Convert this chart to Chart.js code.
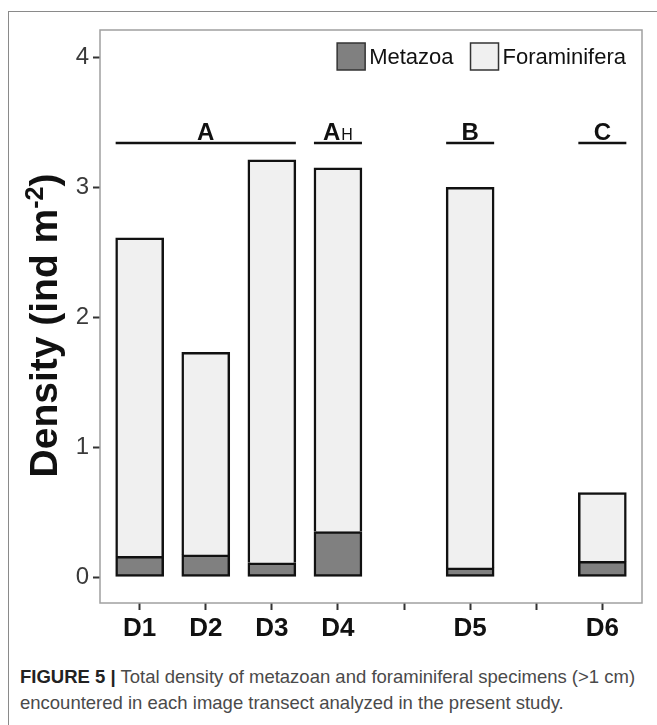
<!DOCTYPE html>
<html>
<head>
<meta charset="utf-8">
<script src="https://cdn.jsdelivr.net/npm/chart.js@4.4.1/dist/chart.umd.min.js"></script>
<style>
    html, body { margin: 0; padding: 0; background: #fff; }
    body { width: 657px; height: 725px; position: relative; overflow: hidden; font-family: 'Liberation Sans', Arial, sans-serif; }
    .frame { position: absolute; left: 8px; top: 11px; width: 700px; height: 800px; border-left: 1px solid #8a8a8a; border-top: 1px solid #8a8a8a; }
    #chart { position: absolute; left: 0; top: 0; }
    .caption { position: absolute; left: 20px; top: 664px; width: 634px; font-size: 18.5px; line-height: 26px; color: #4a4a4a; white-space: nowrap; }
    .caption b { color: #222; }
</style>
</head>
<body>
<div class="frame"></div>
<canvas id="chart" width="657" height="650"></canvas>
<div class="caption"><b>FIGURE 5 |</b> Total density of metazoan and foraminiferal specimens (&gt;1 cm)<br>encountered in each image transect analyzed in the present study.</div>
<script>
// values (ind m-2); blank slots are the gaps between sites
const categories = ['D1', 'D2', 'D3', 'D4', '', 'D5', '', 'D6'];
const metazoa = [0.16, 0.17, 0.11, 0.35, null, 0.07, null, 0.12];
const foraminifera = [2.45, 1.56, 3.10, 2.80, null, 2.93, null, 0.53];
const yTicks = [0, 1, 2, 3, 4];

// site groups drawn above the bars
const groupLabels = ['A', 'A', 'B', 'C'];
const groupSubs = ['', 'H', '', ''];
const groupFrom = [0, 3, 5, 7];
const groupTo = [2, 3, 5, 7];

const FONT = '"Liberation Sans", Arial, sans-serif';

function points(arr) {
    return arr.map((v, i) => (v == null ? null : { x: i, y: v })).filter(Boolean);
}

const panelPlugin = {
    id: 'panel',
    afterDraw(chart) {
        const { ctx, chartArea: a } = chart;
        ctx.save();
        ctx.strokeStyle = '#a0a0a0';
        ctx.lineWidth = 1.5;
        ctx.strokeRect(a.left, a.top, a.right - a.left, a.bottom - a.top);
        ctx.restore();
    }
};

const groupPlugin = {
    id: 'groups',
    afterDatasetsDraw(chart) {
        const { ctx } = chart;
        const xs = chart.scales.x;
        const y = chart.scales.y.getPixelForValue(3.34);
        const half = 24;
        ctx.save();
        ctx.strokeStyle = '#111';
        ctx.fillStyle = '#111';
        ctx.lineWidth = 2.5;
        groupLabels.forEach((label, i) => {
            const x0 = xs.getPixelForValue(groupFrom[i]) - half;
            const x1 = xs.getPixelForValue(groupTo[i]) + half;
            ctx.beginPath();
            ctx.moveTo(x0, y);
            ctx.lineTo(x1, y);
            ctx.stroke();
            ctx.font = 'bold 24px ' + FONT;
            const w = ctx.measureText(label).width;
            ctx.font = '16px ' + FONT;
            const ws = groupSubs[i] ? ctx.measureText(groupSubs[i]).width + 1 : 0;
            const tx = (x0 + x1) / 2 - (w + ws) / 2;
            ctx.textBaseline = 'alphabetic';
            ctx.font = 'bold 24px ' + FONT;
            ctx.fillText(label, tx, y - 3);
            if (groupSubs[i]) {
                ctx.font = '16px ' + FONT;
                ctx.fillText(groupSubs[i], tx + w + 1, y - 3);
            }
        });
        ctx.restore();
    }
};

const legendPlugin = {
    id: 'insideLegend',
    afterDraw(chart) {
        const { ctx, chartArea: a } = chart;
        const box = 28, gap = 4, space = 17;
        ctx.save();
        ctx.font = '22px ' + FONT;
        ctx.textBaseline = 'middle';
        const items = chart.data.datasets.map((d) => ({ text: d.label, fill: d.backgroundColor }));
        const total = items.reduce((s, it) => s + box + gap + ctx.measureText(it.text).width, 0) + space * (items.length - 1);
        let x = a.right - 16 - total;
        const yMid = a.top + 26.5;
        items.forEach((it) => {
            ctx.fillStyle = it.fill;
            ctx.fillRect(x, yMid - 13.5, box, 27);
            ctx.strokeStyle = '#333';
            ctx.lineWidth = 1.5;
            ctx.strokeRect(x, yMid - 13.5, box, 27);
            x += box + gap;
            ctx.fillStyle = '#111';
            ctx.fillText(it.text, x, yMid + 1);
            x += ctx.measureText(it.text).width + space;
        });
        ctx.restore();
    }
};

const titlePlugin = {
    id: 'yTitle',
    afterDraw(chart) {
        const { ctx, chartArea: a } = chart;
        const main = 'Density (ind m';
        const sup = '-2';
        const end = ')';
        ctx.save();
        ctx.font = 'bold 39px ' + FONT;
        const wMain = ctx.measureText(main).width;
        const wEnd = ctx.measureText(end).width;
        ctx.font = 'bold 25px ' + FONT;
        const wSup = ctx.measureText(sup).width;
        const total = wMain + wSup + wEnd;
        const cy = (a.top + a.bottom) / 2 + 9;
        ctx.translate(57, cy);
        ctx.rotate(-Math.PI / 2);
        ctx.fillStyle = '#111';
        ctx.textBaseline = 'alphabetic';
        let x = -total / 2;
        ctx.font = 'bold 39px ' + FONT;
        ctx.fillText(main, x, 0);
        x += wMain;
        ctx.font = 'bold 25px ' + FONT;
        ctx.fillText(sup, x, -14);
        x += wSup;
        ctx.font = 'bold 39px ' + FONT;
        ctx.fillText(end, x, 0);
        ctx.restore();
    }
};

new Chart(document.getElementById('chart'), {
    type: 'bar',
    data: {
        datasets: [
            {
                label: 'Metazoa',
                data: points(metazoa),
                backgroundColor: '#808080',
                borderColor: '#111',
                borderWidth: 2.5,
                borderSkipped: false,
                barThickness: 48,
                stack: 's'
            },
            {
                label: 'Foraminifera',
                data: points(foraminifera),
                backgroundColor: '#f0f0f0',
                borderColor: '#111',
                borderWidth: 2.5,
                borderSkipped: 'bottom',
                barThickness: 48,
                stack: 's'
            }
        ]
    },
    options: {
        responsive: false,
        animation: false,
        layout: { padding: { top: 30, right: 15, left: 0, bottom: 7 } },
        plugins: {
            legend: { display: false },
            tooltip: { enabled: false }
        },
        scales: {
            x: {
                type: 'linear',
                min: -0.6,
                max: 7.6,
                offset: false,
                stacked: true,
                afterBuildTicks: (s) => { s.ticks = categories.map((_, i) => ({ value: i })); },
                afterFit: (s) => { s.height = 40; },
                ticks: {
                    autoSkip: false,
                    maxRotation: 0,
                    padding: 3,
                    color: '#111',
                    font: { family: FONT, size: 26, weight: 'bold' },
                    callback: (v) => categories[v]
                },
                grid: { offset: false, drawOnChartArea: false, tickLength: 7, tickWidth: 2, tickColor: '#333' },
                border: { display: false }
            },
            y: {
                min: -0.2,
                max: 4.21,
                stacked: true,
                afterBuildTicks: (s) => { s.ticks = yTicks.map((v) => ({ value: v })); },
                afterFit: (s) => { s.width = 100; },
                ticks: {
                    padding: 4,
                    color: '#3a3a3a',
                    font: { family: FONT, size: 24 }
                },
                grid: { drawOnChartArea: false, tickLength: 7, tickWidth: 2, tickColor: '#333' },
                border: { display: false }
            }
        }
    },
    plugins: [panelPlugin, groupPlugin, legendPlugin, titlePlugin]
});
</script>
</body>
</html>
